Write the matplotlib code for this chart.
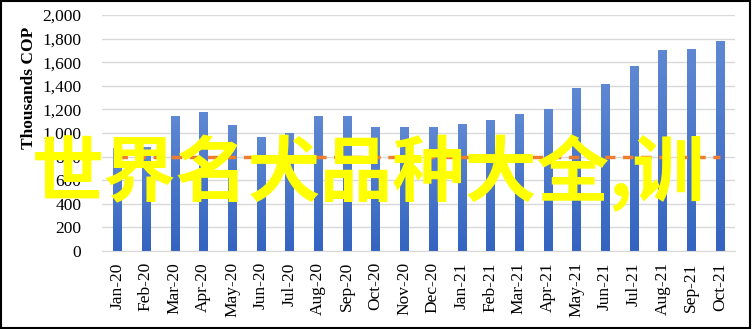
import matplotlib
matplotlib.use("Agg")
import matplotlib.pyplot as plt
from matplotlib.colors import LinearSegmentedColormap
import numpy as np

months = ["Jan-20", "Feb-20", "Mar-20", "Apr-20", "May-20", "Jun-20", "Jul-20",
          "Aug-20", "Sep-20", "Oct-20", "Nov-20", "Dec-20", "Jan-21", "Feb-21",
          "Mar-21", "Apr-21", "May-21", "Jun-21", "Jul-21", "Aug-21", "Sep-21",
          "Oct-21"]
values = [875, 880, 1145, 1180, 1070, 965, 1000, 1145, 1145, 1055, 1050, 1050,
          1075, 1115, 1160, 1205, 1385, 1420, 1565, 1705, 1710, 1780]
reference = [800] * len(months)
yticks = [0, 200, 400, 600, 800, 1000, 1200, 1400, 1600, 1800, 2000]
watermark = "世界名犬品种大全,训"

fig = plt.figure(figsize=(7.52, 3.29), dpi=100)
ax = fig.add_axes([0.136, 0.237, 0.841, 0.717])

# bars with a soft vertical gradient (light at top, darker at bottom)
grad = LinearSegmentedColormap.from_list("g", ["#3464C0", "#5E88D3"])
x = np.arange(len(months))
bw = 0.28
bars = ax.bar(x, values, width=bw, color="#4472C4", zorder=2)
for b, v in zip(bars, values):
    im = ax.imshow(np.linspace(0, 1, 64).reshape(-1, 1), cmap=grad, aspect="auto",
                   origin="lower", extent=(b.get_x(), b.get_x() + bw, 0, v), zorder=2.1)
    im.set_clip_path(b)

ax.plot(x, reference, color="#ED7D31", lw=2.5, ls=(0, (3, 2.2)), zorder=3)

ax.set_xlim(-0.52, len(months) - 0.48)
ax.set_ylim(0, 2000)
ax.set_yticks(yticks)
ax.set_yticklabels([f"{v:,}" for v in yticks], family="Liberation Serif", fontsize=12.5)
ax.set_xticks(x)
ax.set_xticklabels(months, rotation=90, family="Liberation Serif", fontsize=12.5)
ax.tick_params(axis="y", length=0, pad=15)
ax.tick_params(axis="x", length=0, pad=8)
ax.grid(axis="y", color="#D9D9D9", lw=1, zorder=0)
ax.set_axisbelow(True)
for s in ["top", "right", "left"]:
    ax.spines[s].set_visible(False)
ax.spines["bottom"].set_color("#D9D9D9")
ax.set_ylabel("Thousands COP", family="Liberation Serif", fontsize=12.5,
              fontweight="bold")
ax.yaxis.set_label_coords(-0.103, 0.69)

fig.text(0.49, 0.475, watermark, color="#FFFF00", fontsize=52, fontweight="bold",
         family=["Noto Sans CJK SC", "DejaVu Sans"], ha="center", va="center",
         zorder=10)

border = plt.Rectangle((0.001, 0.002), 0.997, 0.995, transform=fig.transFigure,
                       fill=False, ec="black", lw=1.5)
fig.patches.append(border)

fig.savefig("out.png", dpi=100)
